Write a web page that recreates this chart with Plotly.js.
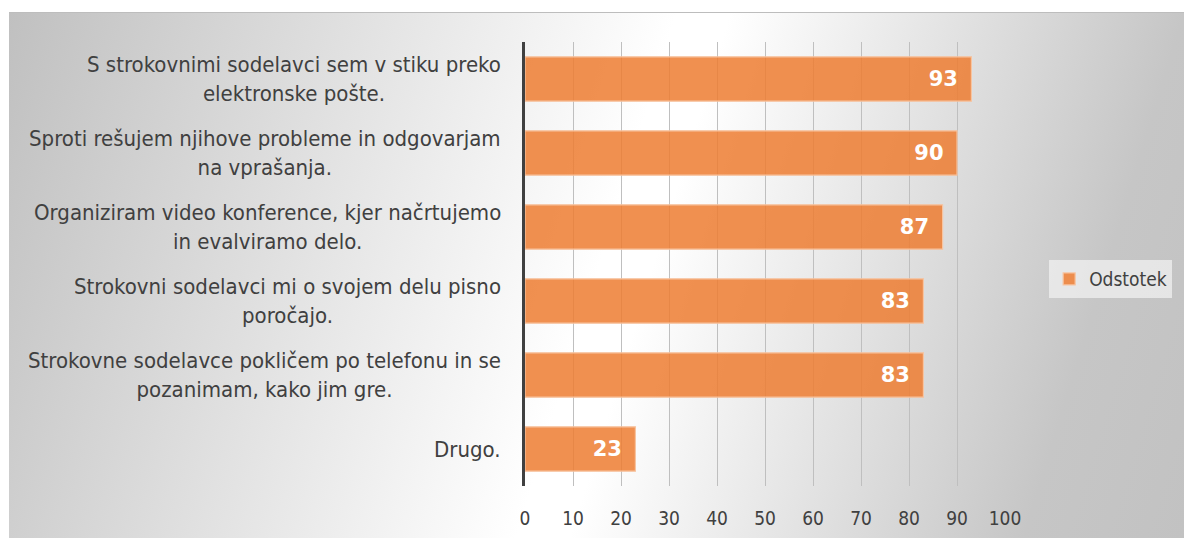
<!DOCTYPE html>
<html>
<head>
<meta charset="utf-8">
<script src="https://cdn.plot.ly/plotly-3.0.1.min.js"></script>
<style>
  html, body { margin: 0; padding: 0; background: #ffffff; }
  #bg { position: absolute; left: 9px; top: 12px; width: 1175px; height: 526px;
        background: linear-gradient(107deg, #c0c0c0 0%, #ffffff 50%, #ffffff 54%, #c6c6c6 88%, #c2c2c2 100%);
        border-top: 1px solid #bdbdbd; box-sizing: border-box; }
  #chart { position: absolute; left: 0; top: 0; width: 1184px; height: 538px; }
</style>
</head>
<body>
<div id="bg"></div>
<div id="chart"></div>
<script>
const categoryLines = [
  ["S strokovnimi sodelavci sem v stiku preko", "elektronske pošte."],
  ["Sproti rešujem njihove probleme in odgovarjam", "na vprašanja."],
  ["Organiziram video konference, kjer načrtujemo", "in evalviramo delo."],
  ["Strokovni sodelavci mi o svojem delu pisno", "poročajo."],
  ["Strokovne sodelavce pokličem po telefonu in se", "pozanimam, kako jim gre."],
  ["Drugo."]
];
const categories = categoryLines.map(l => l.join(" "));
const values = [93, 90, 87, 83, 83, 23];
const seriesName = "Odstotek";
const tickValues = [0, 10, 20, 30, 40, 50, 60, 70, 80, 90, 100];

const textFont = "Tahoma, 'DejaVu Sans Condensed', 'Noto Sans', sans-serif";

const trace = {
  type: "bar",
  orientation: "h",
  name: seriesName,
  y: categories,
  x: values,
  text: values.map(v => String(v)),
  texttemplate: "%{text}\u2002",
  textposition: "inside",
  insidetextanchor: "end",
  textfont: { family: "'DejaVu Sans', sans-serif", size: 21, color: "#ffffff", weight: "bold" },
  marker: { color: "rgba(237,125,49,0.85)", line: { color: "rgba(247,196,160,1)", width: 1.2 } },
  hoverinfo: "x+y",
  showlegend: true
};

const annotations = categoryLines.map((lines, i) => ({
  xref: "paper", yref: "y",
  x: 0, xshift: -22,
  y: categories[i],
  xanchor: "right", yanchor: "middle",
  align: "center",
  text: lines.join("<br>"),
  showarrow: false,
  font: { family: textFont, size: 22, color: "#404040" }
}));

const layout = {
  width: 1184, height: 538,
  margin: { l: 525, r: 179, t: 42, b: 52, autoexpand: false },
  paper_bgcolor: "rgba(0,0,0,0)",
  plot_bgcolor: "rgba(0,0,0,0)",
  bargap: 0.4,
  xaxis: {
    range: [0, 100],
    tickvals: tickValues,
    ticktext: tickValues.map(String),
    showgrid: true, gridcolor: "#bfbfbf", gridwidth: 1,
    zeroline: false, showline: false, ticks: "",
    ticklabelstandoff: 19,
    tickfont: { family: textFont, size: 19, color: "#404040" },
    fixedrange: true
  },
  yaxis: {
    type: "category",
    autorange: "reversed",
    showticklabels: false,
    showgrid: false,
    showline: true, linecolor: "#404040", linewidth: 3,
    zeroline: false, ticks: "",
    fixedrange: true
  },
  legend: {
    x: 1.092, y: 0.466, xanchor: "left", yanchor: "middle",
    bgcolor: "rgba(240,240,240,0.75)",
    font: { family: textFont, size: 19, color: "#404040" },
    itemwidth: 30
  },
  annotations: annotations,
  showlegend: true
};

Plotly.newPlot("chart", [trace], layout, { displayModeBar: false, staticPlot: true });
</script>
</body>
</html>
